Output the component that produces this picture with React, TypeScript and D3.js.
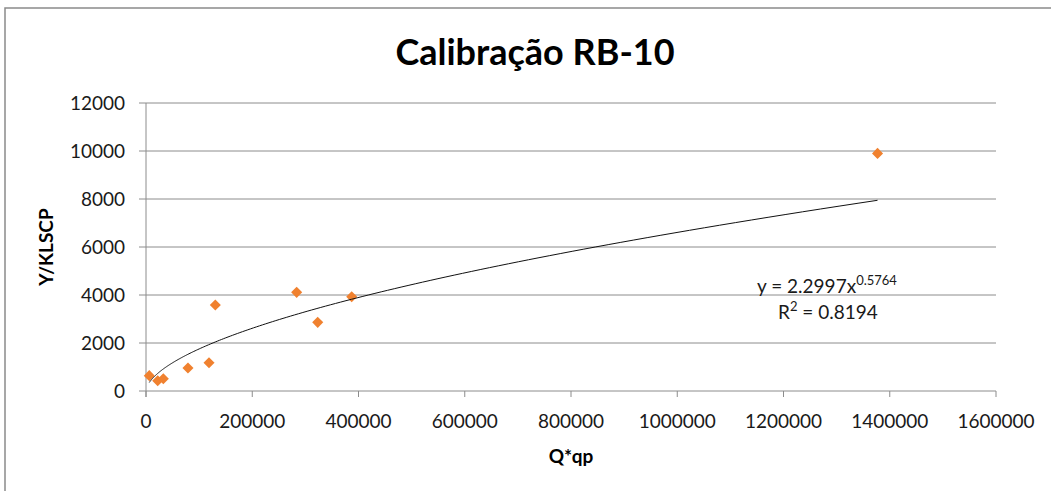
import React from "react";
import * as d3 from "d3";

const title = "Calibração RB-10";
const xTitle = "Q*qp";
const yTitle = "Y/KLSCP";
const xValues = [6200, 22000, 32600, 79000, 118600, 130500, 283600, 323200, 387200, 1377000];
const yValues = [640, 430, 510, 960, 1180, 3580, 4110, 2860, 3930, 9900];
const xTicks = [0, 200000, 400000, 600000, 800000, 1000000, 1200000, 1400000, 1600000];
const yTicks = [0, 2000, 4000, 6000, 8000, 10000, 12000];
const fitCoef = [2.2997, 0.5764];
const eqText = ["y = 2.2997x", "0.5764"];
const r2Text = ["R", "2", " = 0.8194"];

const W = 1051;
const H = 491;
const M = { left: 146, right: 996, top: 103, bottom: 391 };
const font = "Lato, 'Open Sans', sans-serif";

export default function App() {
  const x = d3.scaleLinear().domain([0, 1600000]).range([M.left, M.right]);
  const y = d3.scaleLinear().domain([0, 12000]).range([M.bottom, M.top]);

  const xMin = d3.min(xValues) as number;
  const xMax = d3.max(xValues) as number;
  const fitXs = d3.range(0, 201).map((i) => xMin * Math.pow(xMax / xMin, i / 200));
  const line = d3
    .line<number>()
    .x((d) => x(d))
    .y((d) => y(fitCoef[0] * Math.pow(d, fitCoef[1])))
    .curve(d3.curveLinear);

  const diamond = d3.symbol().type(d3.symbolDiamond2).size(78)();
  const grid = "#8c8c8c";

  return (
    <svg
      width={W}
      height={H}
      style={{ position: "absolute", left: 0, top: 0, background: "#fff" }}
    >
      <rect x={0} y={0} width={W} height={H} fill="#fff" />
      <rect x={5} y={8} width={W + 10} height={H + 10} fill="none" stroke="#8a8a8a" strokeWidth={1.5} />
      <text
        x={535}
        y={65}
        textAnchor="middle"
        fontFamily={font}
        fontWeight="bold"
        fontSize={36}
        fill="#000"
      >
        {title}
      </text>
      {yTicks.map((t) => (
        <g key={"y" + t}>
          <line x1={M.left - 7} x2={M.right} y1={y(t)} y2={y(t)} stroke={grid} strokeWidth={1} />
          <text
            x={125}
            y={y(t)}
            dy="0.36em"
            textAnchor="end"
            fontFamily={font}
            fontSize={19}
            fill="#1a1a1a"
          >
            {t}
          </text>
        </g>
      ))}
      <line x1={M.left} x2={M.left} y1={M.top} y2={M.bottom + 6} stroke={grid} strokeWidth={1} />
      {xTicks.map((t) => (
        <g key={"x" + t}>
          <line x1={x(t)} x2={x(t)} y1={M.bottom} y2={M.bottom + 6} stroke={grid} strokeWidth={1} />
          <text
            x={x(t)}
            y={428}
            textAnchor="middle"
            fontFamily={font}
            fontSize={19}
            fill="#1a1a1a"
          >
            {t}
          </text>
        </g>
      ))}
      <text
        x={(M.left + M.right) / 2}
        y={463}
        textAnchor="middle"
        fontFamily={font}
        fontWeight="bold"
        fontSize={19}
        fill="#000"
      >
        {xTitle}
      </text>
      <text
        transform={`translate(53,${(M.top + M.bottom) / 2}) rotate(-90)`}
        textAnchor="middle"
        fontFamily={font}
        fontWeight="bold"
        fontSize={19}
        fill="#000"
      >
        {yTitle}
      </text>
      {xValues.map((v, i) => (
        <path
          key={"p" + i}
          d={diamond as string}
          transform={`translate(${x(v)},${y(yValues[i])})`}
          fill="#F0812F"
        />
      ))}
      <path d={line(fitXs) as string} fill="none" stroke="#111" strokeWidth={1} />
      <text x={757} y={293} fontFamily={font} fontSize={19} fill="#1a1a1a">
        {eqText[0]}
        <tspan dy={-8} fontSize={13}>
          {eqText[1]}
        </tspan>
      </text>
      <text x={778} y={319} fontFamily={font} fontSize={19} fill="#1a1a1a">
        {r2Text[0]}
        <tspan dy={-8} fontSize={13}>
          {r2Text[1]}
        </tspan>
        <tspan dy={8}>{r2Text[2]}</tspan>
      </text>
    </svg>
  );
}
